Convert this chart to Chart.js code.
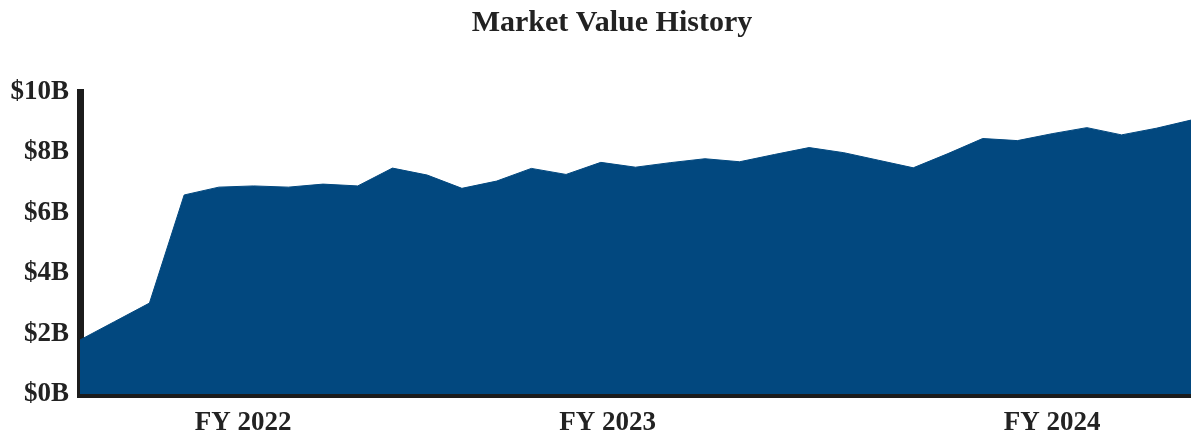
<!DOCTYPE html>
<html>
<head>
<meta charset="utf-8">
<title>Market Value History</title>
<script src="https://cdn.jsdelivr.net/npm/chart.js@4.4.1/dist/chart.umd.min.js"></script>
<style>
  body { margin: 0; background: #fff; }
  #box { width: 1191px; height: 436px; }
</style>
</head>
<body>
<div id="box"><canvas id="area"></canvas></div>
<script>
// monthly market value, in billions
const valores = [
  1.79, 2.4, 3.01, 6.59, 6.85, 6.89, 6.85, 6.95, 6.89, 7.48, 7.25,
  6.81, 7.05, 7.47, 7.27, 7.67, 7.51, 7.66, 7.79, 7.69, 7.93, 8.16,
  7.99, 7.74, 7.49, 7.96, 8.46, 8.39, 8.62, 8.82, 8.58, 8.8, 9.07,
];

// fiscal year labels and where they sit along the months
const anosFiscais = ["FY 2022", "FY 2023", "FY 2024"];
const mesesAnosFiscais = [4.7, 15.2, 28.0];

const ticksY = [0, 2, 4, 6, 8, 10];

const titulo = "Market Value History";

const fonteSerif = "'Liberation Serif', 'Times New Roman', serif";
const corTexto = "#222222";
const corEixo = "#1c1c1c";
const corArea = "#02487f";

// title sits a bit right of the canvas centre in the original
const pluginTitulo = {
  id: "pluginTitulo",
  afterDraw(chart) {
    const ctx = chart.ctx;
    ctx.save();
    ctx.fillStyle = corTexto;
    ctx.font = `bold 30px ${fonteSerif}`;
    ctx.textAlign = "center";
    ctx.textBaseline = "alphabetic";
    ctx.fillText(titulo, 612, 31);
    ctx.restore();
  },
};

function plotarGrafico() {
  const pontos = valores.map((v, i) => ({ x: i, y: v }));

  new Chart(document.getElementById("area"), {
    type: "line",
    data: {
      datasets: [
        {
          label: "Market Value",
          data: pontos,
          fill: "origin",
          backgroundColor: corArea,
          borderColor: corArea,
          borderWidth: 1,
          pointRadius: 0,
          tension: 0,
        },
      ],
    },
    plugins: [pluginTitulo],
    options: {
      responsive: true,
      maintainAspectRatio: false,
      animation: false,
      layout: { padding: { top: 92, left: 0, right: 0, bottom: 0 } },
      plugins: {
        legend: { display: false },
        tooltip: { enabled: false },
        title: { display: false },
      },
      scales: {
        x: {
          type: "linear",
          min: 0,
          max: valores.length - 1,
          z: 1,
          afterFit: (escala) => {
            escala.height = 42;
          },
          afterBuildTicks: (escala) => {
            escala.ticks = mesesAnosFiscais.map((m) => ({ value: m }));
          },
          grid: { display: false, drawTicks: false },
          border: { display: true, color: corEixo, width: 7 },
          ticks: {
            autoSkip: false,
            maxRotation: 0,
            padding: 16,
            color: corTexto,
            font: { family: fonteSerif, size: 27, weight: "bold", lineHeight: 1 },
            callback: function (valor) {
              const idx = mesesAnosFiscais.indexOf(valor);
              return idx >= 0 ? anosFiscais[idx] : "";
            },
          },
        },
        y: {
          min: 0,
          max: 10,
          z: 1,
          afterFit: (escala) => {
            escala.width = 80;
          },
          afterBuildTicks: (escala) => {
            escala.ticks = ticksY.map((t) => ({ value: t }));
          },
          grid: { display: false, drawTicks: false },
          border: { display: true, color: corEixo, width: 7 },
          ticks: {
            padding: 11,
            color: corTexto,
            font: { family: fonteSerif, size: 27, weight: "bold" },
            callback: (valor) => `$${valor}B`,
          },
        },
      },
    },
  });
}

plotarGrafico();
</script>
</body>
</html>
